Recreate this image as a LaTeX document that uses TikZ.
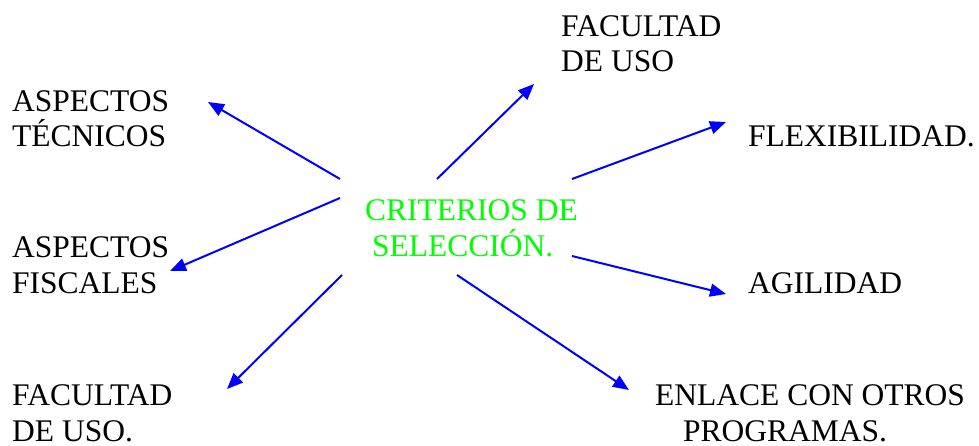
\documentclass[tikz,border=0pt]{standalone}
\usepackage{fontspec}
\setmainfont{Liberation Serif}
\usetikzlibrary{arrows.meta}
\definecolor{critgreen}{RGB}{0,255,0}
\definecolor{arrblue}{RGB}{0,0,255}
\begin{document}
\begin{tikzpicture}[x=1pt,y=-1pt,
  every node/.style={font=\fontsize{31.5}{35.5}\selectfont,inner sep=0pt},
  lbl/.style={anchor=base west,align=left},
  conn/.style={draw=arrblue,line width=2pt,-{Triangle[length=16pt,width=13pt]}}]
\useasboundingbox (0,0) rectangle (979,446);
% center (base = last line)
\node[lbl,text=critgreen] (crit) at (365,256) {CRITERIOS DE\\\hspace*{7pt}SELECCIÓN.};
% labels
\node[lbl] (usotop) at (561,72) {FACULTAD\\DE USO};
\node[lbl] (tecn) at (12,147) {ASPECTOS\\TÉCNICOS};
\node[lbl] (flex) at (748,147) {FLEXIBILIDAD.};
\node[lbl] (fisc) at (12,293) {ASPECTOS\\FISCALES};
\node[lbl] (agil) at (748,293) {AGILIDAD};
\node[lbl] (usobot) at (12,441) {FACULTAD\\DE USO.};
\node[lbl] (enlace) at (655,441) {ENLACE CON OTROS\\\hspace*{28pt}PROGRAMAS.};
% arrows
\foreach \sx/\sy/\tx/\ty/\n in {340/179/208/102/tecn,437/179/534/84/usotop,572/179/726/122/flex,
  340/198/170/271/fisc,572/256/726/294/agil,342/275/227/389/usobot,457/275/629/390/enlace} {
  \coordinate (s-\n) at (\sx,\sy);
  \coordinate (t-\n) at (\tx,\ty);
  \draw[conn] (s-\n) -- (t-\n);
}
\end{tikzpicture}
\end{document}
